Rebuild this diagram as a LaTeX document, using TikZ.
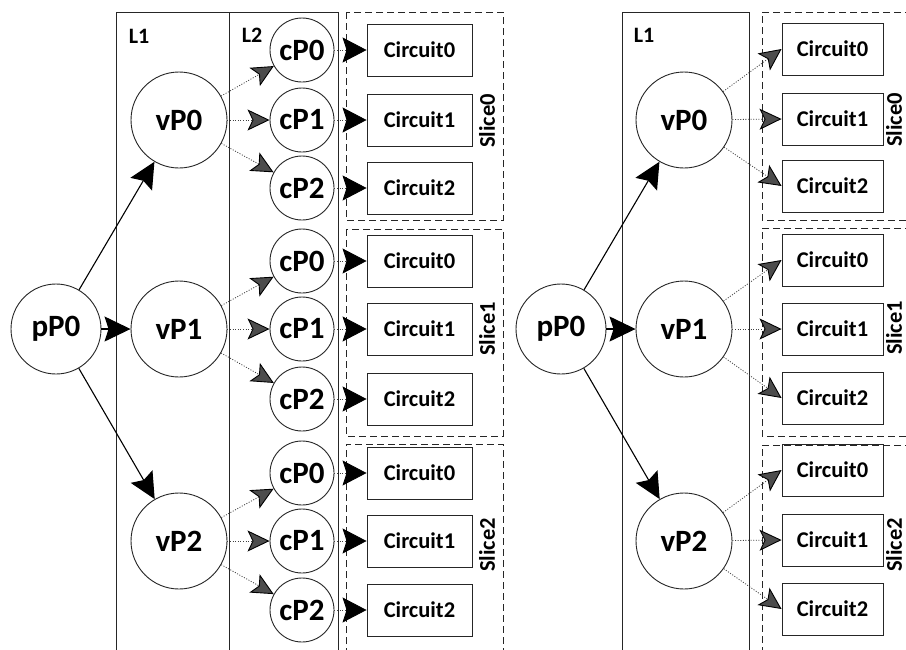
\documentclass[tikz,border=0pt]{standalone}
\usepackage{fontspec}
\setmainfont{Carlito}
\usetikzlibrary{arrows.meta}
\begin{document}
\begin{tikzpicture}[x=1pt,y=-1pt,
  frame/.style={draw=black!85, line width=0.9pt},
  slicebox/.style={draw=black!85, line width=0.9pt, dash pattern=on 7pt off 4pt},
  pnode/.style={circle, draw=black!85, line width=0.9pt, inner sep=0pt, minimum size=90pt,
    font=\bfseries\fontsize{31}{36}\selectfont},
  vnode/.style={pnode, minimum size=96pt},
  cnode/.style={pnode, minimum size=64pt},
  circuit/.style={draw=black!85, line width=0.9pt, inner sep=0pt, minimum width=#1, minimum height=52pt,
    font=\bfseries\fontsize{22.5}{26}\selectfont},
  layerlabel/.style={inner sep=0pt, font=\bfseries\fontsize{22}{24}\selectfont},
  slicelabel/.style={inner sep=0pt, rotate=90, font=\bfseries\fontsize{22.5}{26}\selectfont},
  solidarrow/.style={draw=black, line width=1.1pt, -{Stealth[length=26pt,width=25pt,inset=4pt]}},
  dotarrow/.style={draw=black!75, line width=0.8pt, dash pattern=on 1pt off 1.6pt,
    -{Stealth[length=22pt,width=21pt,inset=5pt,color=black,fill=black!70,line width=0.9pt]}},
  blkarrow/.style={draw=black!75, line width=0.8pt, dash pattern=on 1pt off 1.6pt,
    -{Stealth[length=24pt,width=25pt,inset=4pt,color=black]}}
]
\path[fill=white, use as bounding box] (0,0) rectangle (906,649);
\clip (0,0) rectangle (906,649);

% ---------------- left diagram ----------------
\draw[frame] (116,652) -- (116,12) -- (338,12) -- (338,652);
\draw[frame] (229,12) -- (229,652);
\node[layerlabel] (lL1) at (139,36) {L1};
\node[layerlabel] (lL2) at (252,35) {L2};

\draw[slicebox] (346,12) rectangle (503,220);
\draw[slicebox] (346,229) rectangle (503,436);
\draw[slicebox] (346,655) -- (346,444) -- (503,444) -- (503,655);
\node[slicelabel] (lS0) at (487,121) {Slice0};
\node[slicelabel] (lS1) at (487,329) {Slice1};
\node[slicelabel] (lS2) at (487,545) {Slice2};

\node[pnode] (lp) at (56,329) {pP0};
\node[vnode] (lv0) at (179,120) {vP0};
\node[vnode] (lv1) at (179,329) {vP1};
\node[vnode] (lv2) at (179,541) {vP2};

\foreach \s/\a/\b/\c in {0/50/120/188, 1/261/329/399, 2/473/541/610} {
  \node[cnode] (lc\s0) at (302,\a) {cP0};
  \node[cnode] (lc\s1) at (302,\b) {cP1};
  \node[cnode] (lc\s2) at (302,\c) {cP2};
  \node[circuit=105pt] (lk\s0) at (419.5,\a) {Circuit0};
  \node[circuit=105pt] (lk\s1) at (419.5,\b) {Circuit1};
  \node[circuit=105pt] (lk\s2) at (419.5,\c) {Circuit2};
  \draw[solidarrow] (lp) -- (lv\s);
  \foreach \i in {0,1,2} {
    \draw[dotarrow] (lv\s) -- (lc\s\i);
    \draw[blkarrow] (lc\s\i) -- (lk\s\i);
  }
}

% ---------------- right diagram ----------------
\draw[frame] (622,652) -- (622,12) -- (749,12) -- (749,652);
\node[layerlabel] (rL1) at (644,35) {L1};

\draw[slicebox] (912,12) -- (762,12) -- (762,220) -- (912,220);
\draw[slicebox] (912,228) -- (762,228) -- (762,436) -- (912,436);
\draw[slicebox] (912,445) -- (762,445) -- (762,655);
\node[slicelabel] (rS0) at (894,120) {Slice0};
\node[slicelabel] (rS1) at (894,328) {Slice1};
\node[slicelabel] (rS2) at (894,545) {Slice2};

\node[pnode] (rp) at (561,329) {pP0};
\node[vnode] (rv0) at (684,120) {vP0};
\node[vnode] (rv1) at (684,329) {vP1};
\node[vnode] (rv2) at (684,541) {vP2};

\foreach \s/\a/\b/\c in {0/49/119/186, 1/260/329/398, 2/470/540/609} {
  \node[circuit=101pt] (rk\s0) at (832.5,\a) {Circuit0};
  \node[circuit=101pt] (rk\s1) at (832.5,\b) {Circuit1};
  \node[circuit=101pt] (rk\s2) at (832.5,\c) {Circuit2};
  \draw[solidarrow] (rp) -- (rv\s);
  \foreach \i in {0,1,2} {
    \draw[dotarrow] (rv\s) -- (rk\s\i.west);
  }
}
\end{tikzpicture}
\end{document}
